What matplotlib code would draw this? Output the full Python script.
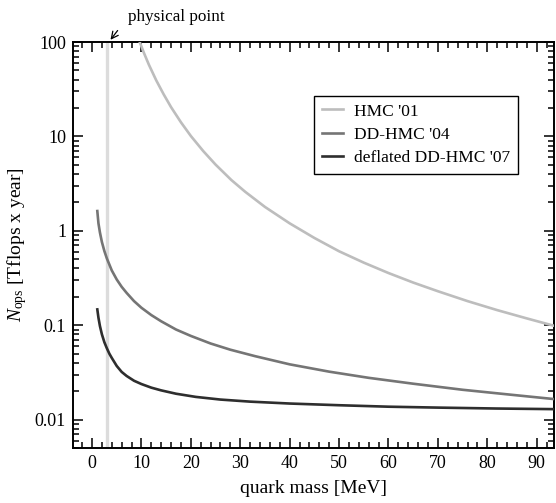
import matplotlib
matplotlib.use("Agg")
import matplotlib.pyplot as plt
from matplotlib.ticker import FixedLocator, MultipleLocator, LogLocator, NullFormatter

plt.rcParams["font.family"] = ["Liberation Serif", "DejaVu Serif"]
plt.rcParams["mathtext.fontset"] = "custom"
plt.rcParams["mathtext.rm"] = "Liberation Serif"
plt.rcParams["mathtext.it"] = "Liberation Serif:italic"

# values
mass_hmc = [9.65, 10.5, 11.5, 13, 14.5, 16, 18, 20, 22.5, 25, 28.2, 31, 35, 40, 45, 50,
            55, 60, 65, 70, 76, 82, 88, 94]
nops_hmc = [100, 76.7, 57.6, 39.2, 27.9, 20.4, 14.1, 10.1, 7.0, 5.03, 3.45, 2.59, 1.79, 1.2,
            0.84, 0.607, 0.46, 0.357, 0.283, 0.229, 0.18, 0.1445, 0.118, 0.097]

mass_dd = [1.07, 1.3, 1.6, 2, 2.5, 3, 3.5, 4, 5, 6, 7, 8.5, 10, 12, 14, 17, 20, 24, 28,
           33, 40, 48, 56, 65, 75, 85, 94]
nops_dd = [1.62, 1.2, 0.96, 0.76, 0.61, 0.51, 0.44, 0.38, 0.305, 0.255, 0.22, 0.18, 0.153,
           0.128, 0.11, 0.09, 0.077, 0.064, 0.055, 0.047, 0.0385, 0.0322, 0.0277, 0.024,
           0.0207, 0.0183, 0.0164]

mass_defl = [1.07, 1.3, 1.6, 2, 2.5, 3, 3.5, 4, 5, 6, 7, 8.5, 10, 12, 14, 17, 21, 26, 32,
             40, 50, 60, 70, 82, 94]
nops_defl = [0.147, 0.12, 0.098, 0.08, 0.066, 0.057, 0.05, 0.045, 0.037, 0.032, 0.029,
             0.0258, 0.0238, 0.0218, 0.0204, 0.0188, 0.0174, 0.0163, 0.0155, 0.0148, 0.0142,
             0.0137, 0.0134, 0.0131, 0.0129]

physical_mass = 3.1
x_ticks = [0, 10, 20, 30, 40, 50, 60, 70, 80, 90]
y_ticks = [0.01, 0.1, 1, 10, 100]
y_ticklabels = ["0.01", "0.1", "1", "10", "100"]

fig = plt.figure(figsize=(5.56, 5.03), dpi=100)
ax = fig.add_axes([0.1313, 0.1093, 0.8660, 0.8072])

ax.axvline(physical_mass, color="#dcdcdc", lw=2.4, zorder=1)
ax.plot(mass_hmc, nops_hmc, color="#bdbdbd", lw=1.9, label="HMC '01", zorder=3)
ax.plot(mass_dd, nops_dd, color="#757575", lw=1.9, label="DD-HMC '04", zorder=3)
ax.plot(mass_defl, nops_defl, color="#2e2e2e", lw=1.9, label="deflated DD-HMC '07", zorder=3)

ax.set_yscale("log")
ax.set_xlim(-3.85, 93.6)
ax.set_ylim(0.005, 100)

ax.xaxis.set_major_locator(FixedLocator(x_ticks))
ax.xaxis.set_minor_locator(MultipleLocator(2))
ax.yaxis.set_major_locator(FixedLocator(y_ticks))
ax.set_yticklabels(y_ticklabels)
ax.yaxis.set_minor_locator(LogLocator(base=10, subs=range(2, 10), numticks=20))
ax.yaxis.set_minor_formatter(NullFormatter())

ax.tick_params(which="both", direction="in", top=True, right=True, labelsize=13, width=1.1)
ax.tick_params(which="major", length=7.5, pad=5)
ax.tick_params(which="minor", length=4)
for s in ax.spines.values():
    s.set_linewidth(1.4)

ax.set_xlabel("quark mass [MeV]", fontsize=14, labelpad=6)
ax.set_ylabel(r"$N_{\rm ops}$ [Tflops x year]", fontsize=14, labelpad=4)

leg = ax.legend(loc="upper right", bbox_to_anchor=(0.924, 0.868), borderaxespad=0,
                fontsize=12.5, fancybox=False, handlelength=1.2, handletextpad=0.65,
                labelspacing=0.42, borderpad=0.45, framealpha=1)
leg.get_frame().set_edgecolor("black")
leg.get_frame().set_linewidth(1.0)

ax.annotate("physical point", xy=(physical_mass + 0.3, 100), xycoords="data",
            xytext=(128, 486), textcoords="figure pixels",
            fontsize=12.3, va="center", ha="left",
            arrowprops=dict(arrowstyle="->", color="black", lw=0.9,
                            shrinkA=9, shrinkB=2, relpos=(0, 0.5)),
            annotation_clip=False)

fig.savefig("out.png", dpi=100)
